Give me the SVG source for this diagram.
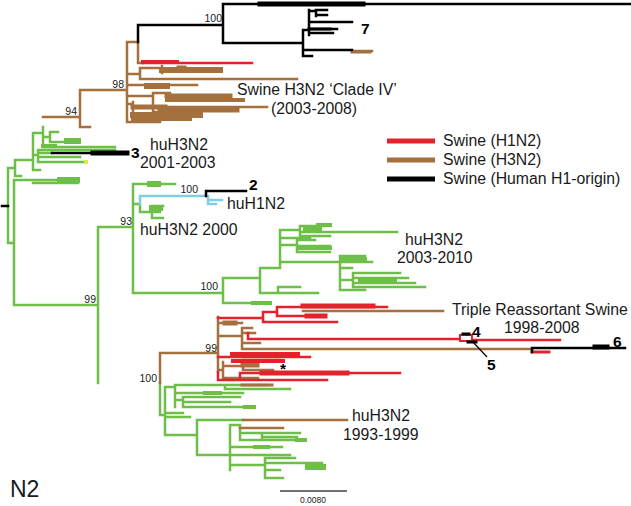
<svg xmlns="http://www.w3.org/2000/svg" width="631" height="506" viewBox="0 0 631 506">
<style>
.g,.b,.r,.k,.c{fill:none;stroke-width:2.5;stroke-linecap:square;stroke-linejoin:miter}
.g{stroke:#6dbf47}.b{stroke:#a3703e}.r{stroke:#e5222b}.k{stroke:#000}.c{stroke:#7fcfe2}
.t5{stroke-width:5}.t4{stroke-width:4}.t6{stroke-width:6}.t3{stroke-width:3}.t8{stroke-width:8}
text{font-family:"Liberation Sans",Arial,Helvetica,sans-serif;fill:#1a1a1a}
.lab{font-size:15.8px}.bs{font-size:10.5px}.num{font-size:15.5px;font-weight:bold;fill:#000}
</style>
<rect width="631" height="506" fill="#fff"/>
<g id="connectors">
<g id="green">
<path class="g" d="M8 168 V243 M8 168 H15 M15 160 V176 M15 176 H21 M15 160 H33 M33 133 V170 M33 133 H43 M43 127 V147 M43 137 H50 M50 132 V142 M50 132 H58 M50 142 H78 M43 147 H115 M33 155 H38 M38 150 V162 M38 150 H115 M38 153 H52 M38 157 H80 M38 162 H85 M33 170 H40 M8 243 H14 M14 180 V305 M14 180 H78 M33 183 H78 M14 305 H98 M98 227 V383 M98 227 H133 M133 184 V293 M133 184 H175 M133 204 H140 M140 204 V212 M140 212 H152 M152 206 V218 M152 206 H163 M152 212 H160 M152 218 H163 M133 293 H223 M223 278 V303 M223 303 H270 M223 278 H260 M260 268 V293 M260 293 H318 M278 287 V293 M278 287 H300 M260 268 H280 M280 230 V268 M280 230 H300 M300 226 V236 M300 226 H325 M300 232 H397 M300 236 H330 M280 238 H310 M280 245 H297 M297 240 V252 M297 240 H315 M297 246 H330 M297 252 H330 M280 262 H340 M340 256 V290 M340 256 H365 M340 262 H372 M340 268 H352 M340 290 H365 M340 280 H353 M353 273 V287 M353 273 H400 M353 278 H408 M353 283 H415 M353 287 H425 M160 383 V415 M160 415 H165 M165 387 V435 M165 387 H175 M175 385 V407 M175 385 H225 M225 385 V389 M225 385 H267 M225 389 H290 M175 393 H243 M175 400 H183 M183 397 V407 M183 397 H240 M183 402 H230 M183 407 H253 M165 413 H183 M165 417 H190 M165 435 H197 M197 420 V455 M197 420 H243 M197 455 H230 M230 425 V470 M230 425 H240 M240 425 V440 M240 433 H300 M262 433 V440 M262 437 H297 M240 440 H305 M230 447 H282 M230 455 H290 M230 465 H265 M265 458 V478 M265 458 H295 M265 463 H322 M265 470 H280 M265 478 H283"/>
<path class="g t6" d="M67 141 H78 M60 180 H77 M150 184 H158 M152 208 H160 M308 467 H323"/>
<path class="g t4" d="M43 146 H55 M253 303 H270 M318 225 H330 M305 229 H320 M300 248 H330 M342 259 H365 M360 281 H395 M205 393 H220 M245 407 H254 M255 447 H268 M297 440 H305"/>
<rect x="84" y="160" width="4" height="4" fill="#e4e84c"/>
</g>
<g id="cyan">
<path class="c" d="M140 196 V204 M140 196 H208 M208 196 V204 M208 200 H222 M208 204 H216"/>
</g>
<g id="brown">
<path class="b" d="M43 117 H80 M80 90 V127 M80 127 H90 M80 90 H127 M127 42 V122 M127 42 H138 M138 42 V63 M138 63 H143 M127 74 H140 M140 68 V79 M140 68 H162 M162 66 V73 M140 79 H297 M127 85 H147 M147 85 H197 M127 96 H153 M153 93 V112 M153 93 H170 M153 107 H267 M153 112 H200 M127 104 H133 M133 102 V120 M127 122 H160 M352 51 H372 M160 353 V383 M160 353 H218 M218 317 V372 M218 323 H242 M218 336 H242 M242 328 V349 M242 328 H252 M242 333 H255 M242 343 H260 M242 349 H532 M303 311 H443 M218 370 H223 M223 362 V378 M223 366 H243 M243 360 V370 M243 360 H278 M243 370 H273 M223 378 H258 M243 420 H347 M240 428 H283"/>
<path class="b t6" d="M162 70 H220 M147 86 H167 M133 115 H200"/>
<path class="b t5" d="M167 96 H230 M160 110 H237 M133 107 H165 M225 323 H235 M243 365 H257"/>
<path class="b t4" d="M167 100 H243 M133 119 H190"/>
<path class="b t3" d="M178 67 H185 M242 385 H272 M352 52 H370"/>
</g>
<g id="red">
<path class="r" d="M143 63 H252 M218 318 H263 M263 312 V322 M263 312 H277 M277 307 V316 M277 307 H387 M263 322 H337 M277 316 H320 M248 333 V339 M248 339 H460 M472 340 H560 M218 357 H233 M233 357 H310 M218 372 V380 M218 380 H327 M240 380 V373 M240 373 H400"/>
<rect x="460" y="335" width="12" height="6" fill="#fff" stroke="#e5222b" stroke-width="2"/>
<path class="r t3" d="M532 352 H549"/>
<path class="r t4" d="M143 62 H177 M233 361 H283"/>
<path class="r t5" d="M303 306 H373 M307 316 H325 M262 373 H347"/>
<path class="r t6" d="M233 355 H297"/>
</g>
<g id="black">
<path class="k" d="M2 206 H8 M138 42 V25 M138 25 H223 M223 4 V43 M223 4 H631 M223 43 H303 M303 30 V56 M303 30 H309 M309 10 V35 M309 11 H316 M316 10 V16 M316 10 H327 M316 15 H327 M309 22 H352 M309 29 H337 M309 33 H333 M303 50 H352 M303 56 H312 M52 153 H127 M206 191 V196 M206 191 H246 M532 348 H625 M532 348 V352"/>
<path class="k t5" d="M260 4 H363 M93 153 H127 M595 347 H607"/>
<path class="k t3" d="M463 334 H469 M468 342 H476 M309 29 H330"/>
<path d="M473 342 L487 357" stroke="#000" stroke-width="1.2" fill="none"/>
</g>
</g>
<g id="support-values">
<text class="bs" x="222" y="22" text-anchor="end">100</text>
<text class="bs" x="124" y="88" text-anchor="end">98</text>
<text class="bs" x="77" y="115" text-anchor="end">94</text>
<text class="bs" x="132" y="225" text-anchor="end">93</text>
<text class="bs" x="198" y="193" text-anchor="end">100</text>
<text class="bs" x="96" y="303" text-anchor="end">99</text>
<text class="bs" x="218" y="290" text-anchor="end">100</text>
<text class="bs" x="157" y="382" text-anchor="end">100</text>
<text class="bs" x="217" y="352" text-anchor="end">99</text>
</g>
<g id="clade-labels">
<text class="lab" x="237" y="95">Swine H3N2 ‘Clade IV’</text>
<text class="lab" x="271" y="114">(2003-2008)</text>
<text class="lab" x="150" y="150">huH3N2</text>
<text class="lab" x="140" y="168">2001-2003</text>
<text class="lab" x="227" y="209">huH1N2</text>
<text class="lab" x="140" y="235">huH3N2 2000</text>
<text class="lab" x="405" y="245">huH3N2</text>
<text class="lab" x="397" y="263">2003-2010</text>
<text class="lab" x="452" y="315">Triple Reassortant Swine</text>
<text class="lab" x="504" y="333">1998-2008</text>
<text class="lab" x="352" y="421">huH3N2</text>
<text class="lab" x="343" y="440">1993-1999</text>
<text class="num" x="361" y="34">7</text>
<text class="num" x="131" y="158">3</text>
<text class="num" x="249" y="190">2</text>
<text class="num" x="472" y="337">4</text>
<text class="num" x="487" y="370">5</text>
<text class="num" x="613" y="347">6</text>
<text class="num" x="280" y="374" font-size="14">*</text>
<text x="10" y="497" font-size="23">N2</text>
</g>
<g id="legend">
<path d="M387 141 H435" stroke="#e5222b" stroke-width="5"/>
<path d="M387 160 H435" stroke="#a3703e" stroke-width="5"/>
<path d="M387 179 H435" stroke="#000" stroke-width="5"/>
<text class="lab" x="443" y="146">Swine (H1N2)</text>
<text class="lab" x="443" y="165">Swine (H3N2)</text>
<text class="lab" x="443" y="184">Swine (Human H1-origin)</text>
</g>
<g id="scale-bar">
<path d="M280 491 H347" stroke="#444" stroke-width="1.5"/>
<text x="300" y="503" font-size="8.5" fill="#333">0.0080</text>
</g>
</svg>
